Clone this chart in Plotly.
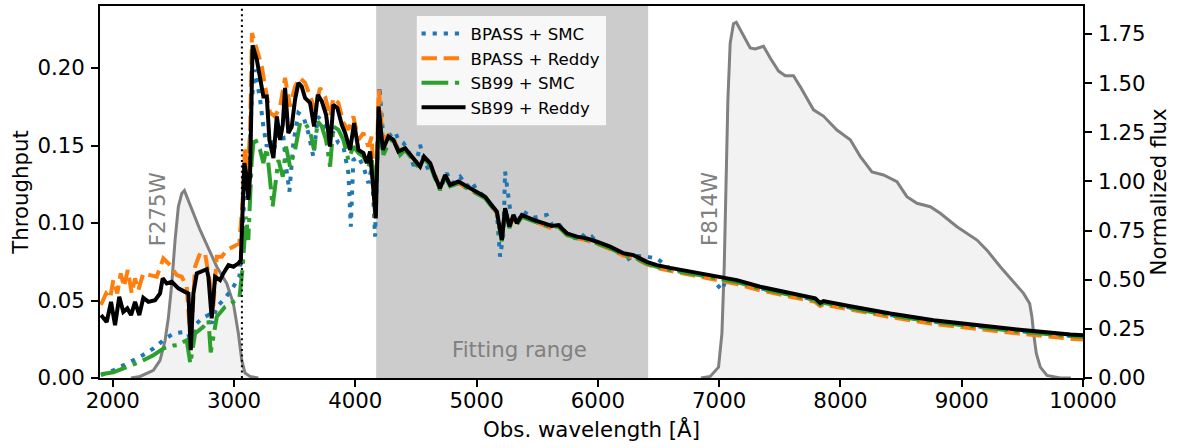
import plotly.graph_objects as go

# ---------------- data ----------------
# Filter throughputs (left axis)
f275w_wl = [2150, 2225, 2335, 2390, 2431, 2459, 2487, 2514, 2541, 2569, 2591, 2652, 2720, 2789,
            2858, 2940, 2995, 3036, 3064, 3091, 3132, 3200]
f275w_thr = [0.0, 0.001, 0.005, 0.0114, 0.024, 0.039, 0.061, 0.089, 0.1105, 0.119, 0.1209, 0.1084,
             0.0955, 0.0836, 0.0718, 0.061, 0.048, 0.0287, 0.0114, 0.0032, 0.001, 0.0]

f814w_wl = [6850, 6926, 6995, 7023, 7042, 7058, 7072, 7091, 7118, 7141, 7188, 7256, 7297, 7366,
            7421, 7490, 7545, 7613, 7668, 7778, 7860, 7971, 8081, 8163, 8260, 8355, 8466, 8548,
            8631, 8741, 8823, 8961, 9126, 9208, 9318, 9428, 9510, 9560, 9579, 9593, 9615, 9648,
            9703, 9813, 9900]
f814w_thr = [0.0, 0.001, 0.007, 0.029, 0.072, 0.136, 0.1795, 0.216, 0.2286, 0.2295, 0.2226, 0.213,
             0.2123, 0.214, 0.2065, 0.198, 0.195, 0.195, 0.188, 0.173, 0.169, 0.160, 0.1537, 0.143,
             0.133, 0.131, 0.1267, 0.117, 0.1127, 0.1105, 0.1063, 0.0976, 0.089, 0.0825, 0.0718,
             0.062, 0.0546, 0.048, 0.0394, 0.0287, 0.0158, 0.007, 0.0017, 0.0, 0.0]

# Model spectra (right axis, normalized flux)
bpass_smc_wl = [1903, 2005, 2115, 2225, 2335, 2417, 2500, 2582, 2624, 2646, 2679, 2734, 2789, 2816,
                2858, 2926, 2995, 3044, 3072, 3091, 3118, 3146, 3173, 3215, 3242, 3270, 3303, 3330,
                3366, 3407, 3429, 3457, 3489, 3531, 3572, 3613, 3654, 3691, 3737, 3778, 3819, 3861,
                3902, 3943, 3963, 3984, 4026, 4067, 4108, 4136, 4163, 4199, 4232, 4273, 4328, 4355,
                4397, 4440, 4493, 4534, 4567, 4603, 4658, 4699, 4754, 4800, 4864, 4920, 4960, 5002,
                5071, 5112, 5167, 5194, 5222, 5235, 5277, 5304, 5332, 5387, 5469, 5579, 5621, 5662,
                5744, 5785, 5854, 5909, 5950, 5992, 6101, 6211, 6239, 6294, 6404, 6487, 6596, 6844,
                6926, 7023, 7060, 7146, 7338, 7586, 7792, 7833, 7860, 8081, 8411, 8768, 9180, 9456,
                9895, 10000]
bpass_smc_flux = [0.014, 0.039, 0.073, 0.107, 0.150, 0.192, 0.226, 0.234, 0.226, 0.141, 0.269, 0.303,
                  0.320, 0.277, 0.362, 0.405, 0.464, 0.515, 0.736, 1.042, 0.974, 1.415, 1.568, 1.415,
                  1.279, 1.177, 1.211, 1.160, 1.279, 1.228, 1.075, 0.948, 1.195, 1.348, 1.330, 1.246,
                  1.126, 1.330, 1.297, 1.246, 1.246, 1.195, 1.177, 1.042, 0.770, 1.109, 1.126, 1.075,
                  0.991, 1.075, 0.719, 1.483, 1.211, 1.228, 1.254, 1.211, 1.195, 1.150, 1.059, 1.186,
                  1.110, 1.059, 1.024, 0.960, 1.042, 0.990, 1.024, 0.975, 0.999, 0.955, 0.920, 0.885,
                  0.840, 0.617, 0.736, 1.050, 0.855, 0.830, 0.790, 0.846, 0.815, 0.829, 0.780, 0.795,
                  0.736, 0.702, 0.736, 0.710, 0.719, 0.690, 0.662, 0.630, 0.600, 0.622, 0.617, 0.608,
                  0.555, 0.525, 0.515, 0.447, 0.505, 0.490, 0.457, 0.424, 0.398, 0.377, 0.385, 0.358,
                  0.321, 0.287, 0.257, 0.240, 0.214, 0.211]

bpass_reddy_wl = [1903, 1945, 1978, 2005, 2038, 2066, 2093, 2124, 2157, 2184, 2211, 2252, 2308, 2363,
                  2417, 2473, 2528, 2569, 2610, 2643, 2679, 2720, 2761, 2802, 2825, 2858, 2899, 2940,
                  2995, 3044, 3072, 3091, 3110, 3132, 3148, 3188, 3229, 3256, 3297, 3338, 3380, 3421,
                  3462, 3503, 3545, 3586, 3627, 3668, 3709, 3751, 3792, 3819, 3861, 3902, 3943, 3984,
                  4026, 4067, 4108, 4136, 4163, 4194, 4227, 4273, 4314, 4355, 4411, 4466, 4507, 4567,
                  4617, 4658, 4699, 4741, 4782, 4850, 4920, 5002, 5071, 5112, 5167, 5208, 5235, 5271,
                  5304, 5332, 5373, 5469, 5551, 5621, 5675, 5744, 5827, 5909, 5992, 6101, 6211, 6294,
                  6404, 6487, 6596, 6844, 6981, 7146, 7338, 7586, 7792, 7833, 7860, 8081, 8411, 8768,
                  9180, 9456, 9895, 10000]
bpass_reddy_flux = [0.371, 0.430, 0.405, 0.498, 0.430, 0.532, 0.464, 0.549, 0.430, 0.507, 0.447, 0.532,
                    0.523, 0.515, 0.608, 0.574, 0.523, 0.515, 0.464, 0.175, 0.566, 0.634, 0.634, 0.481,
                    0.328, 0.617, 0.617, 0.651, 0.668, 0.685, 0.906, 1.177, 1.042, 1.246, 1.755, 1.670,
                    1.585, 1.483, 1.348, 1.330, 1.381, 1.526, 1.381, 1.483, 1.526, 1.501, 1.432, 1.364,
                    1.475, 1.432, 1.330, 1.424, 1.399, 1.297, 1.262, 1.330, 1.211, 1.246, 1.177, 1.228,
                    0.821, 1.466, 1.211, 1.235, 1.218, 1.160, 1.165, 1.120, 1.093, 1.120, 1.090, 1.030,
                    0.960, 1.030, 0.975, 0.992, 0.965, 0.940, 0.915, 0.882, 0.840, 0.705, 0.855, 0.765,
                    0.822, 0.782, 0.822, 0.797, 0.779, 0.760, 0.770, 0.726, 0.710, 0.700, 0.682, 0.656,
                    0.622, 0.612, 0.578, 0.560, 0.545, 0.515, 0.497, 0.478, 0.446, 0.412, 0.387, 0.366,
                    0.373, 0.348, 0.310, 0.275, 0.245, 0.227, 0.200, 0.196]

sb99_smc_wl = [1903, 2005, 2115, 2225, 2335, 2417, 2500, 2528, 2610, 2640, 2679, 2747, 2789, 2808,
               2858, 2926, 2995, 3044, 3072, 3099, 3118, 3146, 3165, 3215, 3242, 3270, 3297, 3318,
               3366, 3402, 3429, 3462, 3503, 3545, 3586, 3627, 3660, 3691, 3724, 3759, 3792, 3819,
               3861, 3902, 3943, 3984, 4026, 4067, 4108, 4136, 4163, 4196, 4232, 4287, 4328, 4370,
               4411, 4466, 4507, 4567, 4617, 4658, 4699, 4741, 4782, 4850, 4920, 5002, 5071, 5112,
               5167, 5208, 5235, 5271, 5304, 5332, 5373, 5469, 5551, 5621, 5675, 5744, 5827, 5909,
               5992, 6101, 6211, 6294, 6404, 6487, 6596, 6844, 6981, 7146, 7338, 7586, 7792, 7833,
               7860, 8081, 8411, 8768, 9180, 9456, 9895, 10000]
sb99_smc_flux = [0.019, 0.029, 0.056, 0.082, 0.116, 0.150, 0.165, 0.167, 0.192, 0.073, 0.226, 0.260,
                 0.294, 0.130, 0.311, 0.362, 0.387, 0.405, 0.566, 0.821, 0.702, 1.109, 1.228, 1.160,
                 1.093, 1.169, 1.008, 0.872, 1.109, 1.024, 1.177, 1.075, 1.160, 1.297, 1.297, 1.254,
                 1.160, 1.305, 1.279, 1.211, 1.075, 1.279, 1.262, 1.211, 1.109, 1.177, 1.144, 1.126,
                 1.075, 1.118, 0.838, 1.348, 1.135, 1.211, 1.200, 1.135, 1.160, 1.115, 1.083, 1.115,
                 1.083, 1.015, 0.955, 1.024, 0.975, 0.990, 0.965, 0.940, 0.914, 0.881, 0.838, 0.695,
                 0.855, 0.762, 0.821, 0.779, 0.821, 0.797, 0.780, 0.765, 0.770, 0.728, 0.711, 0.702,
                 0.685, 0.660, 0.626, 0.616, 0.582, 0.565, 0.550, 0.523, 0.506, 0.488, 0.455, 0.421,
                 0.396, 0.374, 0.382, 0.356, 0.319, 0.285, 0.255, 0.238, 0.213, 0.210]

sb99_reddy_wl = [1903, 1950, 1986, 2019, 2054, 2087, 2120, 2151, 2184, 2219, 2252, 2294, 2349, 2390,
                 2412, 2445, 2487, 2541, 2596, 2624, 2643, 2665, 2693, 2734, 2775, 2789, 2816, 2844,
                 2885, 2912, 2954, 2995, 3036, 3056, 3072, 3085, 3099, 3118, 3132, 3153, 3188, 3215,
                 3242, 3270, 3292, 3325, 3353, 3380, 3402, 3421, 3448, 3476, 3503, 3531, 3558, 3586,
                 3627, 3660, 3691, 3724, 3759, 3792, 3819, 3852, 3889, 3916, 3957, 3990, 4026, 4067,
                 4095, 4122, 4149, 4169, 4192, 4227, 4273, 4314, 4355, 4411, 4466, 4507, 4534, 4567,
                 4617, 4658, 4699, 4741, 4782, 4850, 4920, 5002, 5071, 5112, 5167, 5208, 5235, 5271,
                 5304, 5332, 5373, 5469, 5551, 5621, 5675, 5744, 5827, 5909, 5992, 6101, 6211, 6294,
                 6404, 6487, 6596, 6844, 6981, 7146, 7338, 7586, 7792, 7833, 7860, 8081, 8411, 8768,
                 9180, 9456, 9895, 10000]
sb99_reddy_flux = [0.320, 0.285, 0.387, 0.269, 0.413, 0.336, 0.354, 0.320, 0.387, 0.320, 0.408, 0.387,
                   0.396, 0.430, 0.507, 0.481, 0.489, 0.456, 0.438, 0.430, 0.141, 0.430, 0.532, 0.540,
                   0.553, 0.515, 0.303, 0.515, 0.498, 0.532, 0.574, 0.566, 0.583, 0.600, 0.872, 1.093,
                   1.042, 0.906, 1.024, 1.692, 1.619, 1.517, 1.432, 1.432, 1.211, 1.118, 1.330, 1.211,
                   1.288, 1.475, 1.246, 1.279, 1.415, 1.501, 1.483, 1.424, 1.399, 1.279, 1.441, 1.407,
                   1.339, 1.177, 1.390, 1.373, 1.288, 1.246, 1.160, 1.297, 1.160, 1.144, 1.093, 1.152,
                   0.922, 0.812, 1.381, 1.160, 1.228, 1.211, 1.152, 1.169, 1.126, 1.093, 1.075, 1.126,
                   1.093, 1.024, 0.965, 1.033, 0.982, 0.999, 0.973, 0.948, 0.922, 0.889, 0.846, 0.702,
                   0.863, 0.770, 0.829, 0.787, 0.829, 0.804, 0.787, 0.773, 0.778, 0.736, 0.719, 0.710,
                   0.693, 0.668, 0.634, 0.625, 0.591, 0.574, 0.560, 0.532, 0.515, 0.498, 0.464, 0.430,
                   0.405, 0.382, 0.391, 0.365, 0.328, 0.294, 0.264, 0.247, 0.221, 0.218]

series_names = ["BPASS + SMC", "BPASS + Reddy", "SB99 + SMC", "SB99 + Reddy"]
fit_range = [4172, 6415]
lyman_limit = 3065
x_ticks = [2000, 3000, 4000, 5000, 6000, 7000, 8000, 9000, 10000]
x_ticktext = ["2000", "3000", "4000", "5000", "6000", "7000", "8000", "9000", "10000"]
left_ticks = [0.00, 0.05, 0.10, 0.15, 0.20]
right_ticks = [0.00, 0.25, 0.50, 0.75, 1.00, 1.25, 1.50, 1.75]

# ---------------- figure ----------------
FONT = "DejaVu Sans"
FS = 21.3
fig = go.Figure()

for wl, thr in [(f275w_wl, f275w_thr), (f814w_wl, f814w_thr)]:
    fig.add_trace(go.Scatter(x=wl, y=thr, mode="lines", fill="tozeroy",
                             fillcolor="#f2f2f2", line=dict(color="#808080", width=3),
                             showlegend=False, hoverinfo="skip", yaxis="y"))

styles = [
    dict(color="#1f77b4", width=4, dash="4.2px,6.9px"),
    dict(color="#ff7f0e", width=4, dash="15.4px,6.7px"),
    dict(color="#2ca02c", width=4, dash="26.7px,6.7px,4.2px,6.7px"),
    dict(color="black", width=4),
]
data = [(bpass_smc_wl, bpass_smc_flux), (bpass_reddy_wl, bpass_reddy_flux),
        (sb99_smc_wl, sb99_smc_flux), (sb99_reddy_wl, sb99_reddy_flux)]
for name, (wl, fl), st in zip(series_names, data, styles):
    fig.add_trace(go.Scatter(x=wl, y=fl, mode="lines", name=name, line=st, yaxis="y2"))

fig.add_shape(type="rect", xref="x", yref="paper", x0=fit_range[0], x1=fit_range[1],
              y0=0, y1=1, fillcolor="#cccccc", line=dict(width=0), layer="below")
fig.add_shape(type="line", xref="x", yref="paper", x0=lyman_limit, x1=lyman_limit,
              y0=0, y1=1, line=dict(color="black", width=2, dash="2px,3.4px"), layer="above")

fig.add_annotation(x=2369, y=0.455, xref="x", yref="paper", text="F275W", textangle=-90,
                   xanchor="center", yanchor="middle",
                   showarrow=False, font=dict(family=FONT, size=FS, color="#808080"))
fig.add_annotation(x=6926, y=0.455, xref="x", yref="paper", text="F814W", textangle=-90,
                   xanchor="center", yanchor="middle",
                   showarrow=False, font=dict(family=FONT, size=FS, color="#808080"))
fig.add_annotation(x=5353, y=0.077, xref="x", yref="paper", text="Fitting range",
                   xanchor="center", yanchor="middle",
                   showarrow=False, font=dict(family=FONT, size=FS, color="#808080"))

axis_common = dict(showline=True, linecolor="black", linewidth=1.7, ticks="outside",
                   ticklen=7, tickwidth=1.7, tickcolor="black", showgrid=False, zeroline=False,
                   automargin=False,
                   tickfont=dict(family=FONT, size=FS, color="black"))

fig.update_layout(
    width=1178, height=448,
    margin=dict(l=100, r=95, t=6, b=70, autoexpand=False),
    paper_bgcolor="white", plot_bgcolor="white",
    font=dict(family=FONT, size=FS, color="black"),
    xaxis=dict(range=[1895, 10000], tickvals=x_ticks, ticktext=x_ticktext, mirror=True,
               ticklabelstandoff=-4,
               title=dict(text="Obs. wavelength [Å]", font=dict(family=FONT, size=FS), standoff=10),
               **axis_common),
    yaxis=dict(range=[0, 0.24], tickvals=left_ticks, tickformat=".2f", ticklabelstandoff=2,
               title=dict(text="Throughput", font=dict(family=FONT, size=FS), standoff=3),
               **axis_common),
    yaxis2=dict(range=[0, 1.892], tickvals=right_ticks, tickformat=".2f", overlaying="y",
                side="right", anchor="x", ticklabelstandoff=2,
                title=dict(text="Normalized flux", font=dict(family=FONT, size=FS), standoff=6),
                **axis_common),
    legend=dict(x=0.321, y=0.975, xanchor="left", yanchor="top",
                bgcolor="rgba(255,255,255,0.85)", bordercolor="rgba(204,204,204,0.8)",
                borderwidth=1, font=dict(family=FONT, size=16.6), tracegroupgap=0,
                itemwidth=44),
    showlegend=True,
)

fig.write_html("out.html", config={"displayModeBar": False},
               post_script="document.body.style.margin='0';document.body.style.padding='0';")
